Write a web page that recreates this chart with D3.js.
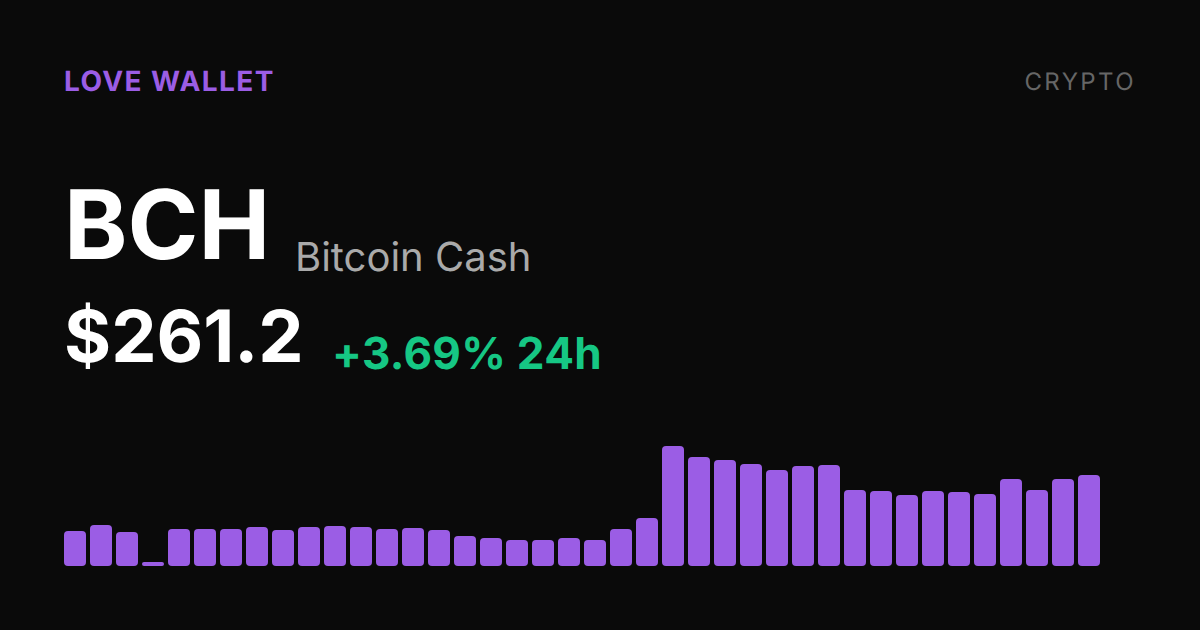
<!DOCTYPE html>
<html><head><meta charset="utf-8">
<script src="https://cdn.jsdelivr.net/npm/d3@7"></script>
<style>html,body{margin:0;padding:0;background:#0a0a0a}svg{display:block}text{font-family:Inter,sans-serif;text-rendering:geometricPrecision}</style>
</head><body><svg id="c" width="1200" height="630"></svg>
<script>
const brand = "LOVE WALLET";
const tag = "CRYPTO";
const symbol = "BCH";
const coinName = "Bitcoin Cash";
const price = "$261.2";
const change = "+3.69% 24h";
const values = [35,41,34,4,37,37,37,39,36,39,40,39,37,38,36,30,28,26,26,28,26,37,48,120,109,106,102,96,100,101,76,75,71,75,74,72,87,76,87,91];
const svg = d3.select("#c");
svg.append("rect").attr("width",1200).attr("height",630).attr("fill","#0a0a0a");
const texts = [
 {t:brand,x:64,y:91,s:28,w:700,f:"#9b5de5",ls:1.4},
 {t:tag,x:1136,y:90,s:24,w:400,f:"#666666",ls:2.4,a:"end"},
 {t:symbol,x:64,y:259,s:96,w:700,f:"#ffffff",ls:0},
 {t:coinName,x:295,y:271,s:40,w:400,f:"#aaaaaa",ls:0},
 {t:price,x:64,y:362,s:72,w:700,f:"#ffffff",ls:0},
 {t:change,x:332,y:369,s:44,w:700,f:"#16c784",ls:0.3}
];
svg.append("g").style("opacity",0.999).selectAll("text").data(texts).join("text")
 .attr("x",d=>d.x).attr("y",d=>d.y).attr("font-size",d=>d.s).attr("font-weight",d=>d.w)
 .attr("fill",d=>d.f).attr("letter-spacing",d=>d.ls).attr("text-anchor",d=>d.a||"start").text(d=>d.t);
const x = d3.scaleBand().domain(d3.range(values.length)).range([64,1100]).paddingInner(4/26).paddingOuter(0);
const y = d3.scaleLinear().domain([0,120]).range([566,446]);
svg.selectAll("rect.bar").data(values).join("rect").attr("class","bar")
 .attr("x",(d,i)=>x(i)).attr("width",x.bandwidth()).attr("y",d=>y(d)).attr("height",d=>y(0)-y(d))
 .attr("rx",d=>Math.min(4,(y(0)-y(d))/2)).attr("fill","#9b5de5");
</script></body></html>
